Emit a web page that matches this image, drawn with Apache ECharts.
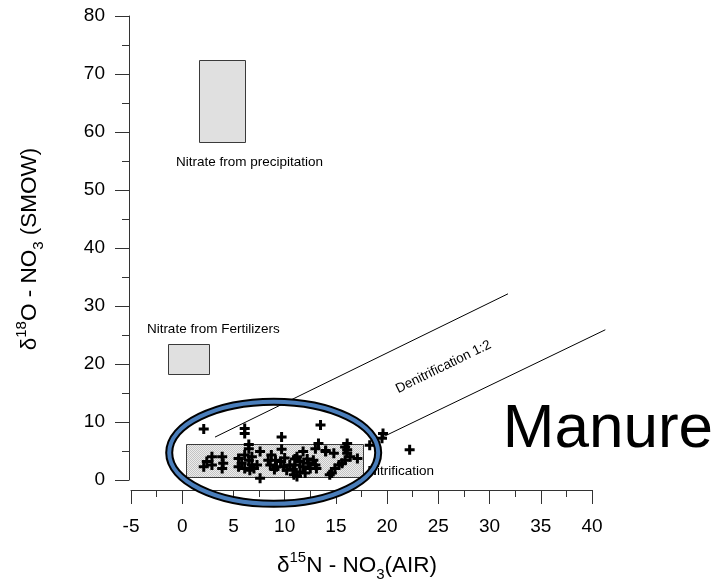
<!DOCTYPE html>
<html><head><meta charset="utf-8">
<script src="https://cdn.jsdelivr.net/npm/echarts@6/dist/echarts.min.js"></script>
<style>html,body{margin:0;padding:0;background:#fff}#c{width:718px;height:587px}</style>
</head><body><div id="c"></div>
<script>
// ---- data ----
const sampleN15 = [2.1,6.1,6.1,9.7,13.5,19.6,19.5,18.3,22.2,6.5,6.5,7.6,9.7,11.8,13.3,13.0,14.0,16.1,16.1,14.8,15.9,16.1,16.4,17.1,15.9,
  2.9,3.9,2.4,2.1,2.9,4.0,3.9,5.5,5.8,5.5,6.1,6.5,6.8,6.1,6.6,6.8,
  8.7,8.4,9.1,8.6,9.2,9.6,9.9,10.2,10.5,7.3,7.0,7.6,9.0,10.0,
  11.2,11.5,11.0,11.8,12.3,11.5,12.0,12.5,13.0,13.1,10.9,11.2,10.8,12.2,11.0,12.8,
  15.6,15.3,14.9,14.6,14.4,14.0];
const sampleO18 = [8.8,8.9,8.0,7.4,9.5,8.0,7.2,6.0,5.2,6.1,5.4,4.9,5.3,4.9,6.3,5.4,5.1,6.3,5.2,4.6,5.7,4.6,4.0,3.7,3.4,
  4.0,4.0,3.2,2.3,2.6,2.9,2.0,3.7,2.9,2.3,4.3,3.4,2.6,2.0,1.7,4.0,
  4.3,3.4,3.4,2.6,2.3,3.2,2.3,1.7,2.6,2.6,2.0,0.3,1.8,3.8,
  4.0,3.2,2.6,2.3,2.9,1.4,1.2,2.0,2.6,2.0,0.9,0.6,1.8,3.6,3.6,3.4,
  2.9,2.6,2.0,1.2,0.9,4.9];
// source boxes: [xMin, xMax, yMin, yMax]
const boxPrecipitation = [1.6, 6.1, 58.2, 72.4];
const boxFertilizer = [-1.4, 2.6, 18.3, 23.5];
const boxNitrification = [0.4, 17.7, 0.5, 6.2];
// denitrification lines: [x1, y1, x2, y2]
const denitLineUpper = [3.2, 7.4, 31.8, 32.1];
const denitLineLower = [19.8, 7.6, 41.3, 25.9];
// manure ellipse: [cx, cy, rx, ry]
const manureEllipse = [8.93, 4.7, 10.2, 8.8];
// text labels: [text, x, y]
const labelPrecip = ['Nitrate from precipitation', -0.6, 54.7];
const labelFert = ['Nitrate from Fertilizers', -3.45, 26.0];
const labelDenit = ['Denitrification 1:2', 25.5, 19.5];
const labelNitr = ['Nitrification', 18.05, 1.5];
const labelManure = ['Manure', 31.3, 8.7];

const FONT = 'Liberation Sans, Arial, Helvetica, sans-serif';
const chart = echarts.init(document.getElementById('c'), null, {renderer:'canvas'});

function stipple(){
  const c = document.createElement('canvas'); c.width = 2; c.height = 2;
  const g = c.getContext('2d');
  g.fillStyle = '#ececec'; g.fillRect(0,0,2,2);
  g.fillStyle = '#c4c4c4'; g.fillRect(0,0,1,1); g.fillRect(1,1,1,1);
  return c;
}
const stippleCanvas = stipple();

function boxSeries(box, fill, z){
  return {type:'custom', coordinateSystem:'cartesian2d', clip:false, z:z, silent:true,
    data:[box],
    renderItem:function(params, api){
      const p0 = api.coord([api.value(0), api.value(3)]);
      const p1 = api.coord([api.value(1), api.value(2)]);
      return {type:'rect', shape:{x:Math.round(p0[0])+0.5, y:Math.round(p0[1])+0.5, width:Math.round(p1[0]-p0[0]), height:Math.round(p1[1]-p0[1])},
        style:{fill:fill, stroke:'#3a3a3a', lineWidth:1}};
    }};
}
function lineSeries(ln){
  return {type:'custom', coordinateSystem:'cartesian2d', clip:false, z:3, silent:true,
    data:[ln],
    renderItem:function(params, api){
      const a = api.coord([api.value(0), api.value(1)]);
      const b = api.coord([api.value(2), api.value(3)]);
      return {type:'line', shape:{x1:a[0], y1:a[1], x2:b[0], y2:b[1]}, style:{stroke:'#000', lineWidth:1}};
    }};
}
function textSeries(lbl, opts){
  return {type:'custom', coordinateSystem:'cartesian2d', clip:false, z:opts.z||4, silent:true,
    data:[[lbl[1], lbl[2]]],
    renderItem:function(params, api){
      const p = api.coord([api.value(0), api.value(1)]);
      let rot = 0;
      if (opts.alongLine){
        const a = api.coord([opts.alongLine[0], opts.alongLine[1]]);
        const b = api.coord([opts.alongLine[2], opts.alongLine[3]]);
        rot = Math.atan2(a[1]-b[1], b[0]-a[0]);
      }
      return {type:'text', x:p[0], y:p[1], rotation:rot,
        style:{text:lbl[0], fontSize:opts.size, fontFamily:FONT, fill:'#000', align:opts.align||'left', verticalAlign:'middle'}};
    }};
}

const plusPath = 'path://M3.5,0H6.5V3.5H10V6.5H6.5V10H3.5V6.5H0V3.5H3.5Z';
const points = sampleN15.map((x,i)=>[x, sampleO18[i]]);

const axisCommon = {
  axisLine:{show:true, onZero:false, lineStyle:{color:'#333', width:1}},
  axisTick:{show:true, inside:false, length:14, lineStyle:{color:'#333', width:1}},
  minorTick:{show:true, splitNumber:2, length:7, lineStyle:{color:'#333', width:1}},
  splitLine:{show:false},
  axisLabel:{fontSize:19, color:'#000', fontFamily:FONT}
};
const richName = {m:{fontSize:22.5, fontFamily:FONT, fill:'#000', lineHeight:32},
  sup:{fontSize:15, fontFamily:FONT, fill:'#000', verticalAlign:'top', lineHeight:19},
  sub:{fontSize:15, fontFamily:FONT, fill:'#000', verticalAlign:'bottom', lineHeight:19}};

chart.setOption({
  animation:false,
  backgroundColor:'#fff',
  grid:{left:131, right:126, top:16, bottom:107, containLabel:false},
  xAxis:Object.assign({type:'value', min:-5, max:40, interval:5, offset:10}, axisCommon,
    {axisLabel:Object.assign({}, axisCommon.axisLabel, {margin:27})}),
  yAxis:Object.assign({type:'value', min:0, max:80, interval:10, offset:2}, axisCommon,
    {axisLabel:Object.assign({}, axisCommon.axisLabel, {margin:24})}),
  graphic:[
    {type:'text', x:357, y:566, style:{
      text:'{m|δ}{sup|15}{m|N - NO}{sub|3}{m|(AIR)}', align:'center', verticalAlign:'middle', rich:richName}},
    {type:'text', x:30, y:249, rotation:Math.PI/2, style:{
      text:'{m|δ}{sup|18}{m|O - NO}{sub|3}{m| (SMOW)}', align:'center', verticalAlign:'middle', rich:richName}}
  ],
  series:[
    boxSeries(boxPrecipitation, '#e0e0e0', 2),
    boxSeries(boxFertilizer, '#e0e0e0', 2),
    boxSeries(boxNitrification, {image:stippleCanvas, repeat:'repeat'}, 2),
    lineSeries(denitLineUpper),
    lineSeries(denitLineLower),
    textSeries(labelPrecip, {size:13.5}),
    textSeries(labelFert, {size:13.5}),
    textSeries(labelDenit, {size:13.5, align:'center', alongLine:denitLineUpper}),
    textSeries(labelNitr, {size:13.5}),
    textSeries(labelManure, {size:62}),
    {type:'scatter', z:5, symbol:plusPath, symbolSize:10, itemStyle:{color:'#000', opacity:1}, data:points, silent:true},
    {type:'custom', coordinateSystem:'cartesian2d', clip:false, z:8, silent:true,
      data:[[manureEllipse[0], manureEllipse[1]]],
      renderItem:function(params, api){
        const cxD = api.value(0), cyD = api.value(1);
        const c = api.coord([cxD, cyD]);
        const e = api.coord([cxD + manureEllipse[2], cyD + manureEllipse[3]]);
        const rx = Math.abs(e[0] - c[0]), ry = Math.abs(c[1] - e[1]);
        return {type:'group', children:[
          {type:'ellipse', shape:{cx:c[0], cy:c[1], rx:rx, ry:ry}, style:{fill:'none', stroke:'#000', lineWidth:8}},
          {type:'ellipse', shape:{cx:c[0], cy:c[1], rx:rx, ry:ry}, style:{fill:'none', stroke:'#4a7ebb', lineWidth:4}}
        ]};
      }}
  ]
});
</script></body></html>
